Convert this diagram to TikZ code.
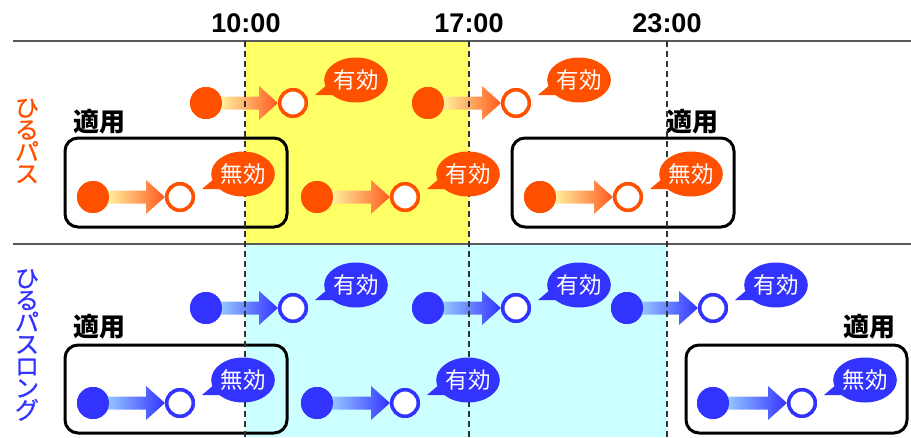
\documentclass[tikz,border=0pt]{standalone}
\usepackage{fontspec}
\setmainfont{Liberation Sans}
\newfontfamily\jp{Noto Sans CJK JP}
\newfontfamily\jpm{Noto Sans CJK JP}[FakeBold=0.8]
\usetikzlibrary{shapes.geometric,calc}
\definecolor{org}{RGB}{255,80,0}
\definecolor{blu}{RGB}{51,51,255}
\definecolor{orgL}{RGB}{255,242,160}
\definecolor{orgR}{RGB}{255,90,30}
\definecolor{bluL}{RGB}{150,200,255}
\definecolor{bluR}{RGB}{51,51,255}
\definecolor{ylw}{RGB}{255,255,102}
\definecolor{cyn}{RGB}{204,255,255}
\definecolor{lin}{RGB}{90,90,90}
\definecolor{dsh}{RGB}{50,50,50}
\newcommand\garrow[4]{\shade[left color=#3,right color=#4] ($(#1.east)+(-2,-6.5)$) -- ($(#2.west)+(-19,-6.5)$) -- ($(#2.west)+(-19,-17)$) -- (#2.west) -- ($(#2.west)+(-19,17)$) -- ($(#2.west)+(-19,6.5)$) -- ($(#1.east)+(-2,6.5)$) -- cycle;}
\newcommand\bub[4]{%
  \node[bubble=#3] (#1) at ($(#2)+(63,-23)$) {#4};
  \fill[#3] ($(#1.center)+(-28,4)$) -- ($(#2.center)+(22,-8)$) -- ($(#1.center)+(-20,15)$) -- cycle;}
\tikzset{
  fdot/.style={circle,fill=#1,minimum size=32pt,inner sep=0pt},
  odot/.style={circle,draw=#1,fill=white,line width=3.5pt,minimum size=26.5pt,inner sep=0pt},
  bubble/.style={ellipse,fill=#1,minimum width=63pt,minimum height=45pt,inner sep=0pt,text=white,font=\jp\fontsize{22.5}{22}\selectfont},
  appbox/.style={draw=black,line width=3pt,rounded corners=13pt},
  applab/.style={font=\jp\bfseries\fontsize{26}{26}\selectfont,inner sep=0pt},
  timelab/.style={font=\bfseries\fontsize{27}{27}\selectfont,inner sep=0pt},
  rowlab/.style={font=\jpm\fontsize{24}{22}\selectfont,align=center,inner sep=0pt},
  hline/.style={draw=lin,line width=1.5pt},
  vdash/.style={draw=dsh,line width=1.3pt,dash pattern=on 6pt off 4pt}
}
\begin{document}
\begin{tikzpicture}[x=1pt,y=-1pt]
\useasboundingbox (0,0) rectangle (911,437);
% backgrounds
\fill[ylw] (245,41) rectangle (469,244);
\fill[cyn] (245,244) rectangle (667,437);
% horizontal lines
\draw[hline] (13,41) -- (911,41);
\draw[hline] (13,244) -- (911,244);
% time labels
\node[timelab] (t10) at (246,23) {10:00};
\node[timelab] (t17) at (469,23) {17:00};
\node[timelab] (t23) at (667,23) {23:00};
% row labels
\node[rowlab,text=org] (lab1) at (27,141) {ひ\\る\\パ\\ス};
\node[rowlab,text=blu] (lab2) at (27,345) {ひ\\る\\パ\\ス\\ロ\\ン\\グ};
% ---- top section nodes
\node[fdot=org] (a1) at (206,103) {};
\node[odot=org] (b1) at (293,103) {};
\node[fdot=org] (a2) at (428,103) {};
\node[odot=org] (b2) at (516,103) {};
\node[fdot=org] (a3) at (93,197) {};
\node[odot=org] (b3) at (180,197) {};
\node[fdot=org] (a4) at (317,197) {};
\node[odot=org] (b4) at (405,197) {};
\node[fdot=org] (a5) at (540,197) {};
\node[odot=org] (b5) at (628,197) {};
% ---- bottom section nodes
\node[fdot=blu] (c1) at (206,308) {};
\node[odot=blu] (d1) at (293,308) {};
\node[fdot=blu] (c2) at (428,308) {};
\node[odot=blu] (d2) at (516,308) {};
\node[fdot=blu] (c3) at (627,308) {};
\node[odot=blu] (d3) at (713,308) {};
\node[fdot=blu] (c4) at (93,403) {};
\node[odot=blu] (d4) at (180,403) {};
\node[fdot=blu] (c5) at (317,403) {};
\node[odot=blu] (d5) at (405,403) {};
\node[fdot=blu] (c6) at (713,403) {};
\node[odot=blu] (d6) at (802,403) {};
% arrows
\garrow{a1}{b1}{orgL}{orgR}
\garrow{a2}{b2}{orgL}{orgR}
\garrow{a3}{b3}{orgL}{orgR}
\garrow{a4}{b4}{orgL}{orgR}
\garrow{a5}{b5}{orgL}{orgR}
\garrow{c1}{d1}{bluL}{bluR}
\garrow{c2}{d2}{bluL}{bluR}
\garrow{c3}{d3}{bluL}{bluR}
\garrow{c4}{d4}{bluL}{bluR}
\garrow{c5}{d5}{bluL}{bluR}
\garrow{c6}{d6}{bluL}{bluR}
% redraw circles on top of arrows
\foreach \n in {a1,a2,a3,a4,a5}{\fill[org] (\n) circle (16pt);}
\foreach \n in {b1,b2,b3,b4,b5}{\draw[org,line width=3.5pt,fill=white] (\n) circle (13.25pt);}
\foreach \n in {c1,c2,c3,c4,c5,c6}{\fill[blu] (\n) circle (16pt);}
\foreach \n in {d1,d2,d3,d4,d5,d6}{\draw[blu,line width=3.5pt,fill=white] (\n) circle (13.25pt);}
% boxes
\draw[appbox] (65,138) rectangle (287,227);
\draw[appbox] (512,138) rectangle (734,227);
\draw[appbox] (65,345) rectangle (287,433);
\draw[appbox] (686,345) rectangle (907,433);
\node[applab,anchor=west] (ap1) at (73,122) {適用};
\node[applab,anchor=east] (ap2) at (719,122) {適用};
\node[applab,anchor=west] (ap3) at (73,327) {適用};
\node[applab,anchor=east] (ap4) at (896,327) {適用};
% dashed lines
\draw[vdash] (245,41) -- (245,437);
\draw[vdash] (469,41) -- (469,437);
\draw[vdash] (667,41) -- (667,437);
% bubbles
\bub{e1}{b1}{org}{有効}
\bub{e2}{b2}{org}{有効}
\bub{e3}{b3}{org}{無効}
\bub{e4}{b4}{org}{有効}
\bub{e5}{b5}{org}{無効}
\bub{f1}{d1}{blu}{有効}
\bub{f2}{d2}{blu}{有効}
\bub{f3}{d3}{blu}{有効}
\bub{f4}{d4}{blu}{無効}
\bub{f5}{d5}{blu}{有効}
\bub{f6}{d6}{blu}{無効}
\end{tikzpicture}
\end{document}
